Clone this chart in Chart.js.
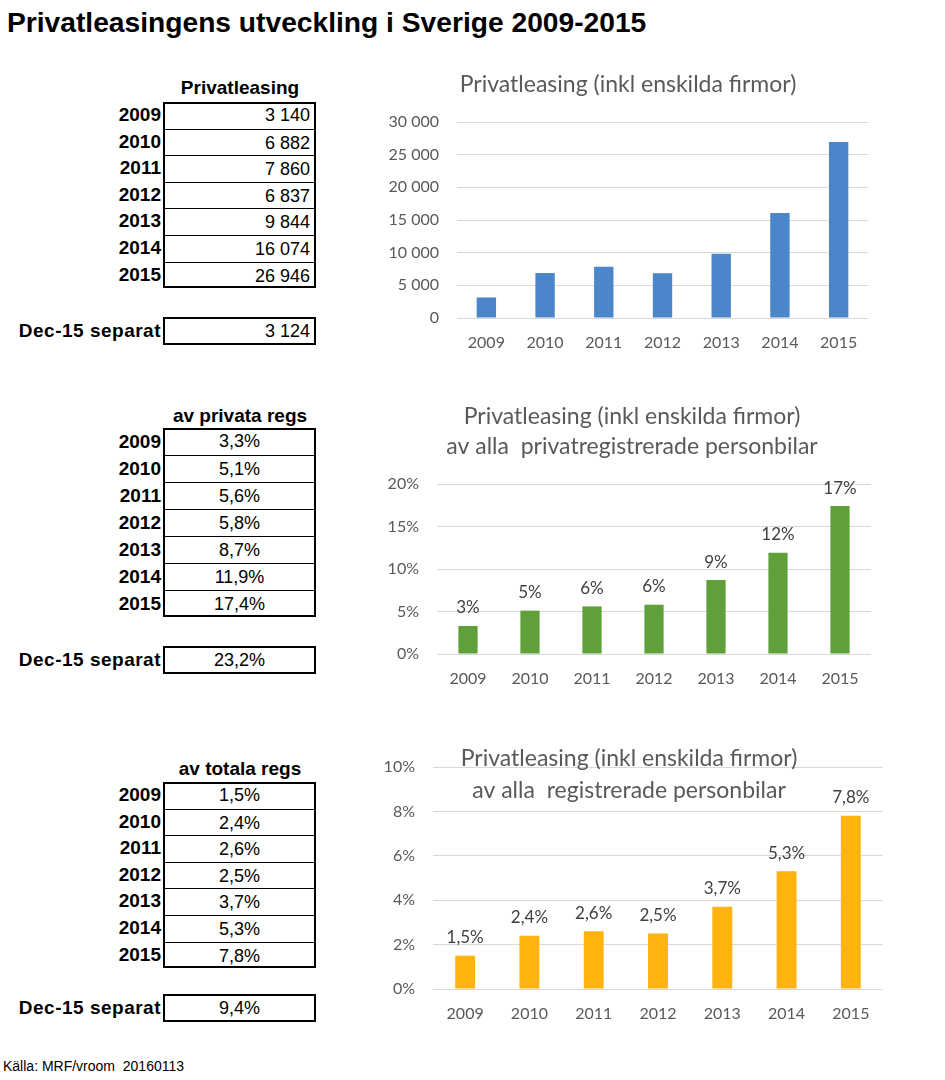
<!DOCTYPE html>
<html lang="sv">
<head>
<meta charset="utf-8">
<title>Privatleasingens utveckling i Sverige 2009-2015</title>
<script src="https://cdn.jsdelivr.net/npm/chart.js@4.4.0/dist/chart.umd.min.js"></script>
<style>
    body { margin: 0; background: #fff; }
    #page {
        position: relative; width: 945px; height: 1080px; overflow: hidden;
        font-family: "Liberation Sans", Arial, sans-serif; color: #000;
    }
    h1 {
        position: absolute; left: 7px; top: 5px; margin: 0;
        font-size: 28.2px; line-height: 34px; font-weight: bold;
    }
    .head {
        position: absolute; left: 150px; width: 180px; text-align: center;
        font-weight: bold; font-size: 19px; line-height: 22px;
    }
    .box {
        position: absolute; left: 163px; width: 153px;
        border: 2px solid #000; box-sizing: border-box;
    }
    .cell {
        position: absolute; left: 0; right: 0; font-size: 18px;
        box-sizing: border-box; padding: 0 4px;
    }
    .cell.line { border-top: 1.5px solid #000; }
    .label {
        position: absolute; right: 784px; white-space: nowrap;
        font-weight: bold; font-size: 19px;
    }
    .label.dec { letter-spacing: 0.5px; }
    .wrap { position: absolute; left: 370px; width: 520px; }
    #kalla { position: absolute; left: 3px; top: 1058px; font-size: 14px; }
</style>
</head>
<body>
<div id="page">
    <h1>Privatleasingens utveckling i Sverige 2009-2015</h1>
    <div id="tables"></div>
    <div class="wrap" style="top:60px;height:300px"><canvas id="chart1" width="520" height="300"></canvas></div>
    <div class="wrap" style="top:390px;height:310px"><canvas id="chart2" width="520" height="310"></canvas></div>
    <div class="wrap" style="top:730px;height:300px"><canvas id="chart3" width="520" height="300"></canvas></div>
    <div id="kalla">Källa: MRF/vroom&nbsp; 20160113</div>
</div>

<script>
// --- data ---
const years = ['2009', '2010', '2011', '2012', '2013', '2014', '2015'];
const privatleasing = [3140, 6882, 7860, 6837, 9844, 16074, 26946];
const andelPrivata = [3.3, 5.1, 5.6, 5.8, 8.7, 11.9, 17.4];   // % av privata regs
const andelTotala = [1.5, 2.4, 2.6, 2.5, 3.7, 5.3, 7.8];      // % av totala regs
const dec15 = [3124, 23.2, 9.4];                              // Dec-15 separat

const yTicks1 = [0, 5000, 10000, 15000, 20000, 25000, 30000];
const yTicks2 = [0, 5, 10, 15, 20];
const yTicks3 = [0, 2, 4, 6, 8, 10];

// --- formatering ---
const tusen = v => String(Math.round(v)).replace(/\B(?=(\d{3})+(?!\d))/g, ' ');
const procent1 = v => v.toFixed(1).replace('.', ',') + '%';
const procent0 = v => Math.round(v) + '%';

// --- tabeller till vänster ---
function buildTable(header, headY, top, rowH, values, fmt, align, decTop, decValue) {
    const host = document.getElementById('tables');
    let html = `<div class="head" style="top:${headY - 11}px">${header}</div>`;
    html += `<div class="box" style="top:${top}px;height:${rowH * values.length}px">`;
    values.forEach((v, i) => {
        html += `<div class="cell${i ? ' line' : ''}" style="top:${i * rowH - 2}px;height:${rowH}px;line-height:${rowH}px;text-align:${align}">${fmt(v)}</div>`;
    });
    html += '</div>';
    years.forEach((y, i) => {
        html += `<div class="label" style="top:${top + i * rowH}px;line-height:${rowH}px">${y}</div>`;
    });
    const decH = 28;
    html += `<div class="box" style="top:${decTop}px;height:${decH}px">
        <div class="cell" style="top:0;height:24px;line-height:24px;text-align:${align}">${fmt(decValue)}</div></div>`;
    html += `<div class="label dec" style="top:${decTop}px;line-height:${decH}px">Dec-15 separat</div>`;
    host.insertAdjacentHTML('beforeend', html);
}

buildTable('Privatleasing', 88, 102, 26.6, privatleasing, tusen, 'right', 317, dec15[0]);
buildTable('av privata regs', 416, 428, 27, andelPrivata, procent1, 'center', 646, dec15[1]);
buildTable('av totala regs', 769, 782, 26.6, andelTotala, procent1, 'center', 994, dec15[2]);

// --- Chart.js hjälpare ---
function titlePlugin(lines, x, y, gap) {
    return {
        id: 'rubrik',
        afterDraw(chart) {
            const ctx = chart.ctx;
            ctx.save();
            ctx.font = '23px Lato';
            ctx.fillStyle = '#595959';
            ctx.textAlign = 'center';
            ctx.textBaseline = 'middle';
            lines.forEach((t, i) => ctx.fillText(t, x, y + i * gap));
            ctx.restore();
        }
    };
}

function labelPlugin(fmt) {
    return {
        id: 'etiketter',
        afterDatasetsDraw(chart) {
            const ctx = chart.ctx;
            const data = chart.data.datasets[0].data;
            ctx.save();
            ctx.font = '17px Lato';
            ctx.fillStyle = '#404040';
            ctx.textAlign = 'center';
            ctx.textBaseline = 'middle';
            chart.getDatasetMeta(0).data.forEach((bar, i) => {
                ctx.fillText(fmt(data[i]), bar.x, bar.y - 18);
            });
            ctx.restore();
        }
    };
}

function barChart(id, values, color, ticks, tickFmt, box, plugins) {
    return new Chart(document.getElementById(id), {
        type: 'bar',
        data: {
            labels: years,
            datasets: [{
                data: values,
                backgroundColor: color,
                categoryPercentage: 1,
                barPercentage: box.bar
            }]
        },
        options: {
            responsive: false,
            animation: false,
            layout: { padding: { top: box.top, right: box.right, left: 0, bottom: 0 } },
            plugins: { legend: { display: false }, tooltip: { enabled: false } },
            scales: {
                x: {
                    grid: { display: false, drawTicks: false, tickLength: 0 },
                    border: { display: false },
                    ticks: { padding: 15, color: '#595959', font: { size: 16 } },
                    afterFit: s => { s.height = box.xh; }
                },
                y: {
                    min: ticks[0],
                    max: ticks[ticks.length - 1],
                    grid: { color: '#d9d9d9', lineWidth: 1, drawTicks: false, tickLength: 0 },
                    border: { display: false },
                    ticks: {
                        stepSize: ticks[1] - ticks[0],
                        padding: 18,
                        color: '#595959',
                        font: { size: 16 },
                        callback: v => tickFmt(v)
                    },
                    afterFit: s => { s.width = box.yw; }
                }
            }
        },
        plugins: plugins
    });
}

function drawAll() {
    Chart.defaults.font.family = 'Lato';

    barChart('chart1', privatleasing, '#4a86c9', yTicks1, tusen,
        { top: 62, right: 22, yw: 87, xh: 42, bar: 0.33 },
        [titlePlugin(['Privatleasing (inkl enskilda firmor)'], 258, 25, 0)]);

    barChart('chart2', andelPrivata, '#5fa03a', yTicks2, v => v + '%',
        { top: 94, right: 19, yw: 67, xh: 46, bar: 0.31 },
        [titlePlugin(['Privatleasing (inkl enskilda firmor)', 'av alla  privatregistrerade personbilar'], 262, 27, 30),
         labelPlugin(procent0)]);

    barChart('chart3', andelTotala, '#ffb30f', yTicks3, v => v + '%',
        { top: 37, right: 7, yw: 63, xh: 41, bar: 0.31 },
        [titlePlugin(['Privatleasing (inkl enskilda firmor)', 'av alla  registrerade personbilar'], 259, 29, 32),
         labelPlugin(procent1)]);
}

Promise.all([
    document.fonts.load('16px Lato'),
    document.fonts.load('23px Lato')
]).then(drawAll, drawAll);
</script>
</body>
</html>
